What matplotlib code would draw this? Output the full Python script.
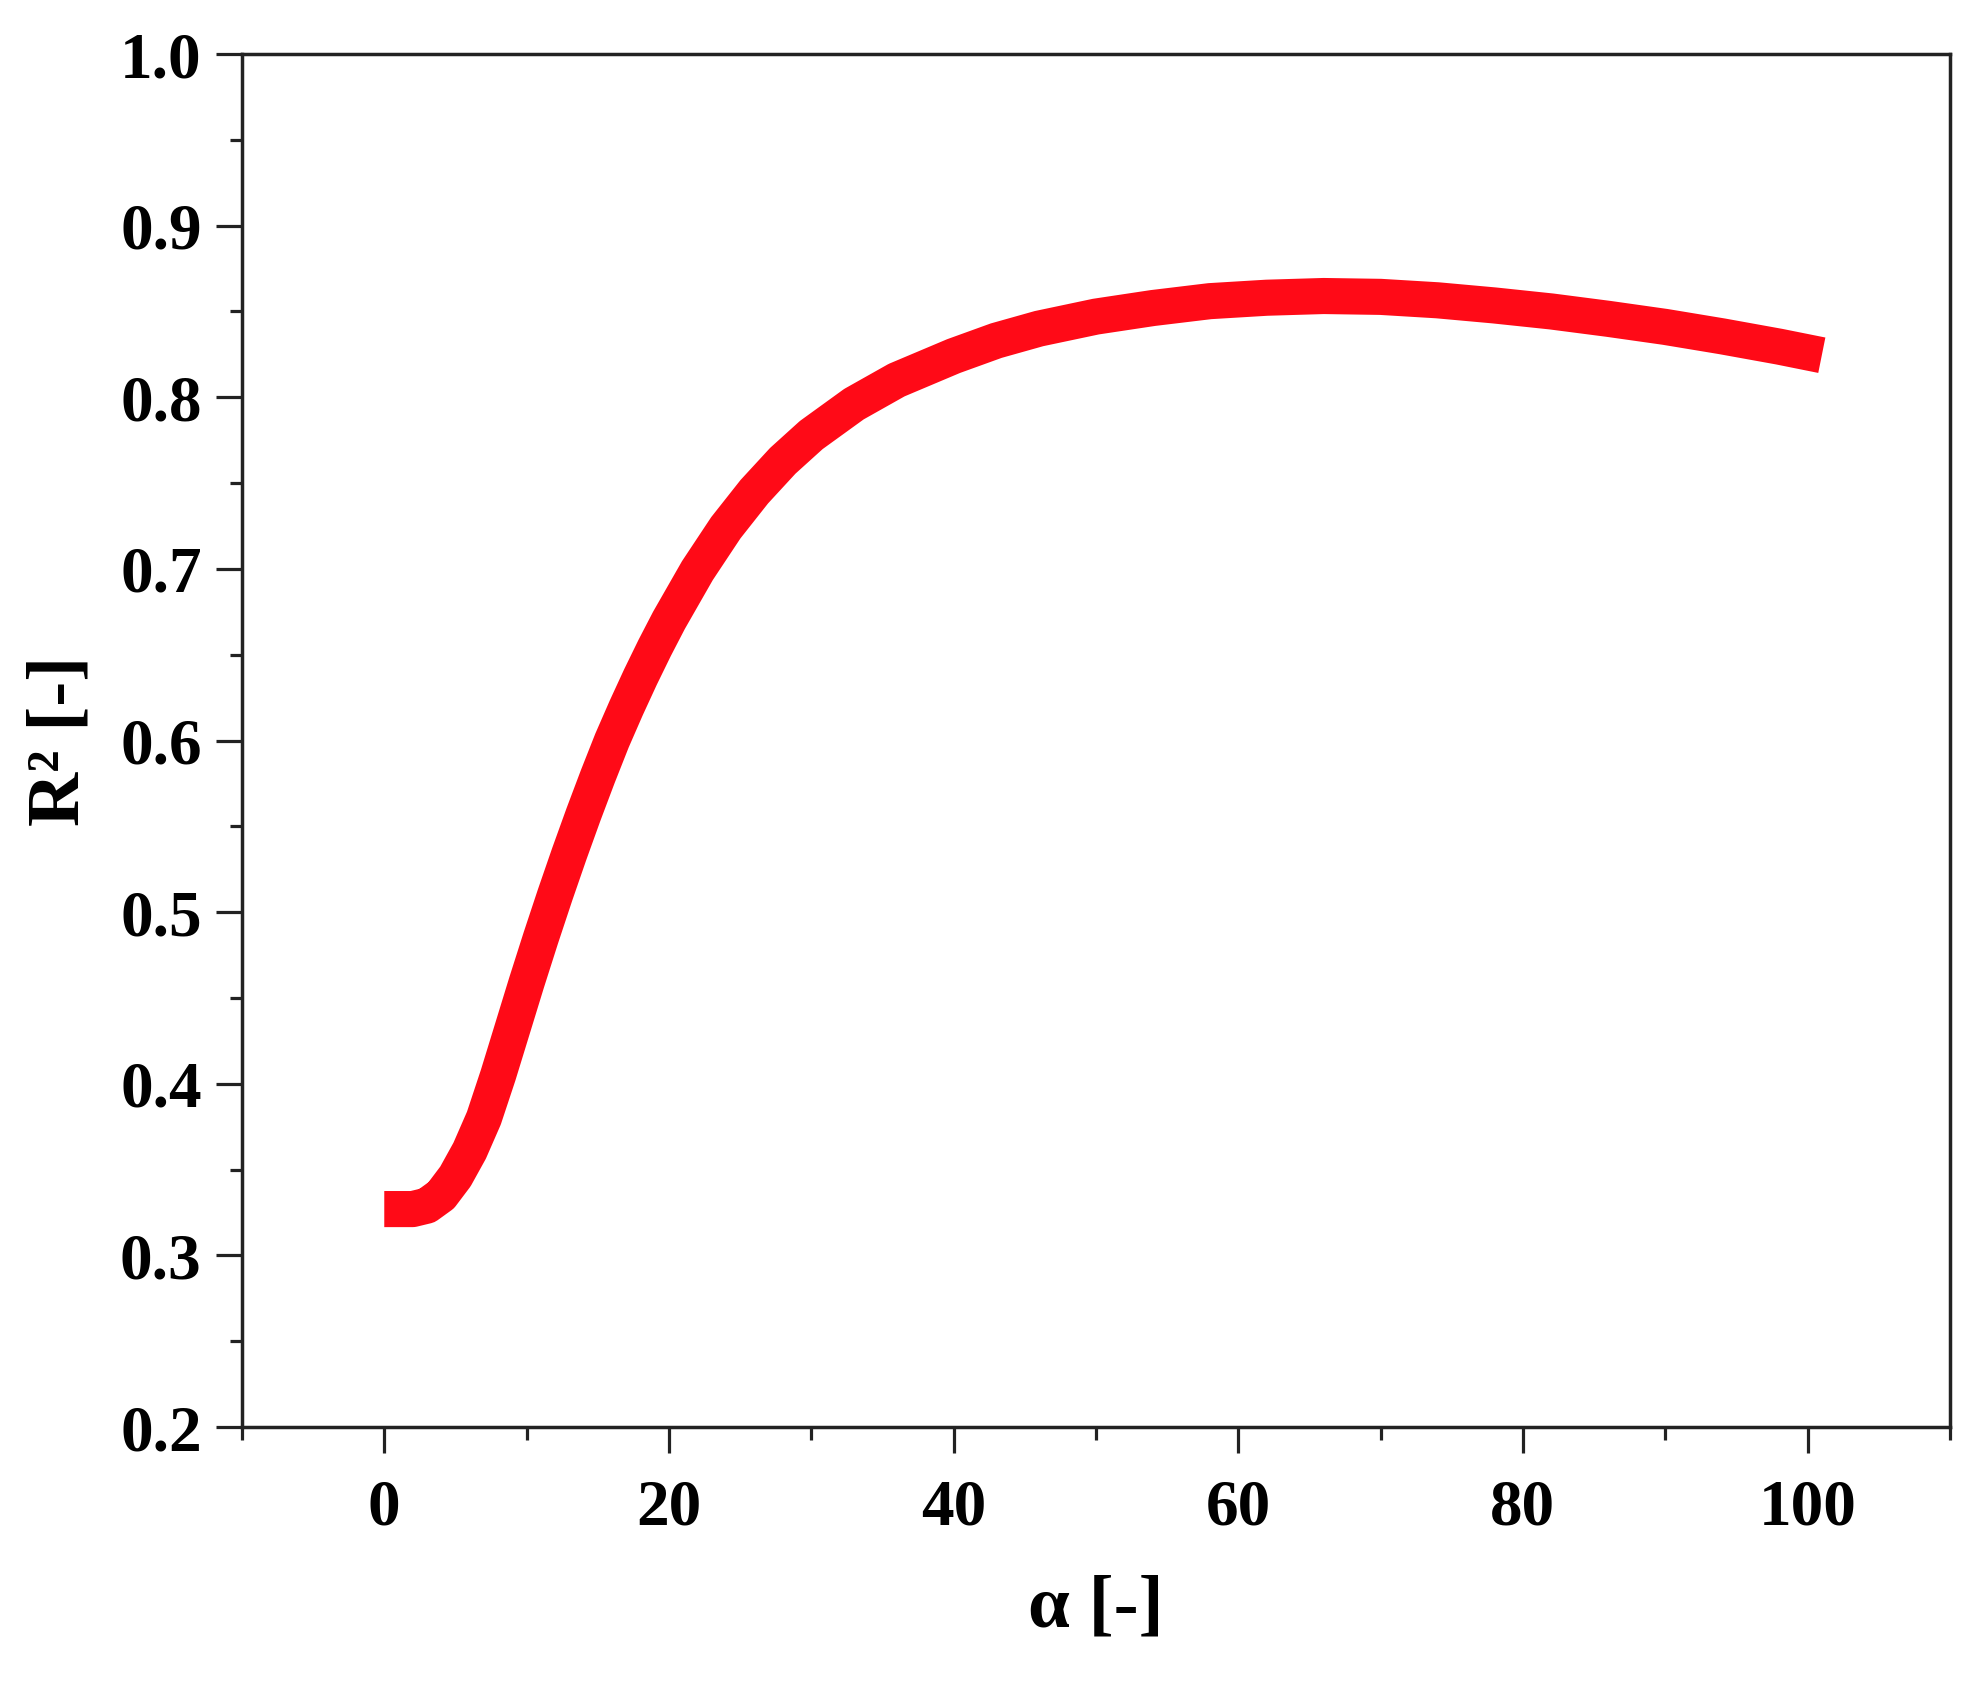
import matplotlib
matplotlib.use("Agg")
import matplotlib.pyplot as plt
from matplotlib.ticker import MultipleLocator

alpha = [0, 1, 2, 3, 4, 5, 6, 7, 8, 9, 10, 11, 12, 13, 14, 15, 16, 17, 18, 19, 20,
         22, 24, 26, 28, 30, 33, 36, 40, 43, 46, 50, 54, 58, 62, 66, 70, 74, 78,
         82, 86, 90, 94, 98, 101]
r2 = [0.327, 0.327, 0.327, 0.329, 0.335, 0.346, 0.361, 0.380, 0.405, 0.432, 0.459,
      0.485, 0.510, 0.534, 0.557, 0.579, 0.600, 0.619, 0.637, 0.654, 0.670,
      0.699, 0.724, 0.745, 0.763, 0.778, 0.796, 0.810, 0.824, 0.833, 0.840,
      0.847, 0.852, 0.856, 0.858, 0.859, 0.8585, 0.8565, 0.8535, 0.850, 0.8457,
      0.841, 0.8355, 0.8295, 0.8245]

x_ticks = [0, 20, 40, 60, 80, 100]
y_ticks = [0.2, 0.3, 0.4, 0.5, 0.6, 0.7, 0.8, 0.9, 1.0]

plt.rcParams['font.family'] = ['Liberation Serif', 'DejaVu Serif']
plt.rcParams['font.weight'] = 'bold'

fig = plt.figure(figsize=(19.75, 16.88), dpi=100)
ax = fig.add_axes([0.1225, 0.1546, 0.8648, 0.8134])

ax.plot(alpha, r2, color='#ff0a17', lw=26, solid_capstyle='butt', solid_joinstyle='round')

ax.set_xlim(-10, 110)
ax.set_ylim(0.2, 1.0)
ax.set_xticks(x_ticks)
ax.set_yticks(y_ticks)
ax.set_xticklabels([str(v) for v in x_ticks])
ax.set_yticklabels([f"{v:.1f}" for v in y_ticks])
ax.xaxis.set_minor_locator(MultipleLocator(10))
ax.yaxis.set_minor_locator(MultipleLocator(0.05))

for s in ax.spines.values():
    s.set_linewidth(2.5)
    s.set_color('#222222')

ax.tick_params(axis='both', which='major', direction='out', length=19, width=2.3,
               labelsize=47, color='#222222')
ax.tick_params(axis='both', which='minor', direction='out', length=9, width=2.3, color='#222222')
ax.tick_params(axis='x', which='major', pad=18)
ax.tick_params(axis='y', which='major', pad=10)
ax.tick_params(top=False, right=False, which='both')
for lab in ax.get_xticklabels() + ax.get_yticklabels():
    lab.set_fontweight('bold')

ax.set_ylabel('R² [-]', fontsize=54, fontweight='bold', labelpad=18)
ax.set_xlabel('α [-]', fontsize=54, fontweight='bold', labelpad=26)

fig.savefig('out.png', dpi=100, facecolor='white')
